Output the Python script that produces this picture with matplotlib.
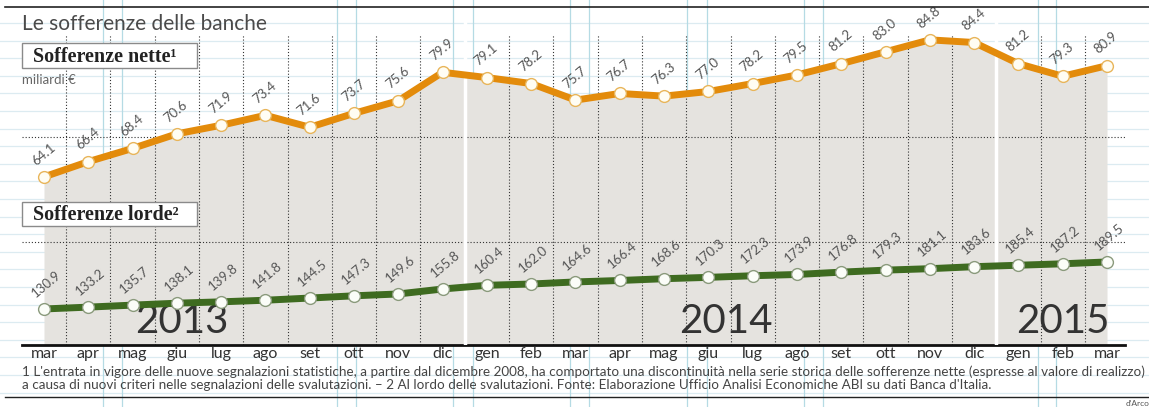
import matplotlib
matplotlib.use("Agg")
import matplotlib.pyplot as plt
from matplotlib.lines import Line2D
from matplotlib.patches import Rectangle
from matplotlib import font_manager

# ---------------- data ----------------
months = ["mar", "apr", "mag", "giu", "lug", "ago", "set", "ott", "nov", "dic",
          "gen", "feb", "mar", "apr", "mag", "giu", "lug", "ago", "set", "ott",
          "nov", "dic", "gen", "feb", "mar"]
nette = [64.1, 66.4, 68.4, 70.6, 71.9, 73.4, 71.6, 73.7, 75.6, 79.9,
         79.1, 78.2, 75.7, 76.7, 76.3, 77.0, 78.2, 79.5, 81.2, 83.0,
         84.8, 84.4, 81.2, 79.3, 80.9]
lorde = [130.9, 133.2, 135.7, 138.1, 139.8, 141.8, 144.5, 147.3, 149.6, 155.8,
         160.4, 162.0, 164.6, 166.4, 168.6, 170.3, 172.3, 173.9, 176.8, 179.3,
         181.1, 183.6, 185.4, 187.2, 189.5]
years = ["2013", "2014", "2015"]

title = "Le sofferenze delle banche"
label_nette = "Sofferenze nette\u00b9"
label_lorde = "Sofferenze lorde\u00b2"
unit = "miliardi \u20ac"
note1 = ("1 L'entrata in vigore delle nuove segnalazioni statistiche, a partire dal dicembre 2008, "
         "ha comportato una discontinuità nella serie storica delle sofferenze nette "
         "(espresse al valore di realizzo)")
note2 = ("a causa di nuovi criteri nelle segnalazioni delle svalutazioni. \u2013 2 Al lordo delle "
         "svalutazioni. Fonte: Elaborazione Ufficio Analisi Economiche ABI su dati Banca d'Italia.")

# ---------------- fonts ----------------
names = {f.name for f in font_manager.fontManager.ttflist}
SANS = "Lato" if "Lato" in names else "DejaVu Sans"
SERIF = "Liberation Serif" if "Liberation Serif" in names else "DejaVu Serif"

W, H = 1149, 407
fig = plt.figure(figsize=(W / 100, H / 100), dpi=100)
fig.patch.set_facecolor("white")

def fx(px):
    return px / W

def fy(py):
    return 1 - py / H

# background paper lines (decoration)
for k in range(23):
    y = 23 + 17.6 * k
    fig.add_artist(Line2D([0, 1], [fy(y), fy(y)], color="#dcebf1", lw=0.9, zorder=0))
for x0 in [103, 122, 337, 356, 453, 473, 570, 589, 687, 707, 804, 823, 1038, 1056]:
    fig.add_artist(Line2D([fx(x0), fx(x0)], [0, 1], color="#b5dbe4", lw=0.9, zorder=0))

# frame lines
fig.add_artist(Line2D([fx(5), 1], [fy(7), fy(7)], color="#222", lw=1.2, zorder=1))
fig.add_artist(Line2D([fx(5), 1], [fy(397), fy(397)], color="#222", lw=1.0, zorder=1))

# ---------------- axes ----------------
left_px, right_px, top_px, base_px = 22, 1125, 20, 345
ax = fig.add_axes([fx(left_px), (H - base_px) / H, (right_px - left_px) / W, (base_px - top_px) / H])
ax.set_facecolor("none")
x = list(range(len(months)))
step = (1107 - 44) / 24
ax.set_xlim((left_px - 44) / step, 24 + (right_px - 1107) / step)
ax.set_ylim(38.7, 87.8)

ax2 = ax.twinx()
ax2.set_ylim(86.0, 491.0)
ax2.set_facecolor("none")

for a in (ax, ax2):
    for s in a.spines.values():
        s.set_visible(False)
    a.tick_params(left=False, right=False, labelleft=False, labelright=False)
ax.spines["bottom"].set_visible(True)
ax.spines["bottom"].set_color("#111")
ax.spines["bottom"].set_linewidth(2)
ax2.tick_params(bottom=False, labelbottom=False)

# gray area under the net line
ax.fill_between(x, nette, 38.7, color="#e5e3df", lw=0, zorder=1)

# dotted grid
xt = ax.get_xaxis_transform()
for i in range(24):
    ax.plot([i + 0.5, i + 0.5], [0, 0.954], transform=xt, color="#333",
            lw=0.8, ls=(0, (1, 1.8)), zorder=2)
for yf in (0.64, 0.317):
    ax.plot([0, 1], [yf, yf], transform=ax.transAxes, color="#333",
            lw=0.8, ls=(0, (1, 1.8)), zorder=2)

# white gaps between years
for gx in (9.5, 21.5):
    ax.plot([gx, gx], [0, 1], transform=xt, color="white", lw=2.5, zorder=3)

# lines
ax.plot(x, nette, color="#e38b0b", lw=5, solid_capstyle="butt", zorder=5,
        marker="o", ms=8.5, mfc="#fffdf3", mec="#e8b55a", mew=1)
ax2.plot(x, lorde, color="#3e6b20", lw=5, solid_capstyle="butt", zorder=5,
         marker="o", ms=8.5, mfc="#fbfdf8", mec="#8a9a7c", mew=1)

for xi, v in zip(x, nette):
    ax.annotate(f"{v:.1f}", (xi, v), xytext=(-5, 7), textcoords="offset points",
                rotation=40, rotation_mode="anchor", ha="left", va="bottom",
                fontsize=9.5, color="#555", family=SANS, zorder=6)
for xi, v in zip(x, lorde):
    ax2.annotate(f"{v:.1f}", (xi, v), xytext=(-5, 7), textcoords="offset points",
                 rotation=40, rotation_mode="anchor", ha="left", va="bottom",
                 fontsize=9.5, color="#555", family=SANS, zorder=6)

# month labels
ax.set_xticks(x)
ax.set_xticklabels(months, fontsize=11.5, color="#333", family=SANS)
ax.tick_params(axis="x", length=0, pad=1.5)

# year labels
ykw = dict(transform=xt, va="bottom", fontsize=29, color="#333",
           family=SANS, weight="normal", zorder=4)
ax.text(3.12, 0.015, years[0], ha="center", **ykw)
ax.text(15.4, 0.015, years[1], ha="center", **ykw)
ax.text(24.07, 0.015, years[2], ha="right", **ykw)

# ---------------- texts ----------------
fig.text(fx(22), fy(24), title, ha="left", va="center", fontsize=15,
         color="#4a4a4a", family=SANS)
for (y0, y1), lab in (((43, 68), label_nette), ((202, 226), label_lorde)):
    fig.add_artist(Rectangle((fx(22), fy(y1)), fx(197) - fx(22), fy(y0) - fy(y1),
                             transform=fig.transFigure, fc="white", ec="#8a8a8a",
                             lw=1, zorder=9))
    fig.text(fx(33), fy((y0 + y1) / 2 + 1), lab, ha="left", va="center",
             fontsize=14.5, weight="bold", color="#222", family=SERIF, zorder=10)
fig.text(fx(22), fy(80), unit, ha="left", va="center", fontsize=9.5,
         color="#666", family=SANS)

fig.text(fx(22), fy(372), note1, ha="left", va="center", fontsize=9.7,
         color="#444", family=SANS)
fig.text(fx(22), fy(385), note2, ha="left", va="center", fontsize=9.7,
         color="#444", family=SANS)
fig.text(fx(1126), fy(404), "d'Arco", ha="left", va="center", fontsize=6,
         color="#555", family=SANS)

fig.savefig("out.png", dpi=100)
